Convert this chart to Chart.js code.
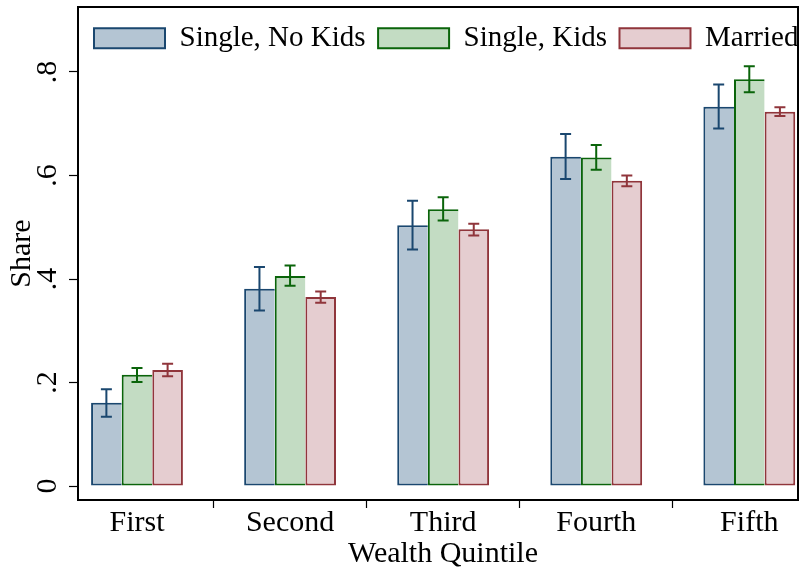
<!DOCTYPE html>
<html>
<head>
<meta charset="utf-8">
<script src="https://cdn.jsdelivr.net/npm/chart.js@4/dist/chart.umd.min.js"></script>
<style>
html,body{margin:0;padding:0;overflow:hidden;background:#fff;width:799px;height:576px}
#wrap{width:812px;height:576px}
canvas{display:block}
</style>
</head>
<body>
<div id="wrap"><canvas id="c" width="812" height="576" style="width:812px;height:576px"></canvas></div>
<script>
// ---- data ----
const categories = ['First', 'Second', 'Third', 'Fourth', 'Fifth'];
const seriesNames = ['Single, No Kids', 'Single, Kids', 'Married'];

const noKids     = [0.161, 0.381, 0.504, 0.636, 0.733];
const noKidsLow  = [0.134, 0.339, 0.457, 0.593, 0.691];
const noKidsHigh = [0.187, 0.423, 0.551, 0.680, 0.776];

const kids       = [0.215, 0.406, 0.535, 0.635, 0.786];
const kidsLow    = [0.201, 0.387, 0.513, 0.611, 0.761];
const kidsHigh   = [0.228, 0.426, 0.558, 0.659, 0.811];

const married     = [0.224, 0.365, 0.496, 0.590, 0.723];
const marriedLow  = [0.212, 0.354, 0.484, 0.579, 0.715];
const marriedHigh = [0.236, 0.376, 0.507, 0.600, 0.732];

const yTickValues = [0, 0.2, 0.4, 0.6, 0.8];
const yTickLabels = ['0', '.2', '.4', '.6', '.8'];

// ---- styles ----
const borderColors = ['#1a476f', '#0a640a', '#90353b'];
const fillColors   = ['#b4c5d3', '#c3dcc3', '#e5cdd0'];

Chart.defaults.font.family = "'Liberation Serif', 'Times New Roman', serif";
Chart.defaults.font.size = 30;
Chart.defaults.color = '#000';

const values = [noKids, kids, married];
const lows = [noKidsLow, kidsLow, marriedLow];
const highs = [noKidsHigh, kidsHigh, marriedHigh];

const datasets = seriesNames.map((name, i) => ({
  label: name,
  data: values[i].map((v, j) => ({ x: j, y: v })),
  backgroundColor: fillColors[i],
  borderColor: borderColors[i],
  borderWidth: i < 2 ? { top: 2, left: 2, bottom: 2, right: 0 } : 2,
  borderSkipped: false,
  categoryPercentage: 0.6,
  barPercentage: 1.0,
  errLow: lows[i],
  errHigh: highs[i]
}));

function noPad(s) {
  s.paddingTop = 0; s.paddingBottom = 0; s.paddingLeft = 0; s.paddingRight = 0;
}

const legendPatch = {
  id: 'legendPatch',
  afterInit(chart) {
    const lg = chart.legend;
    const fit = lg.fit;
    lg.fit = function () {
      this.maxWidth = 5000;
      fit.call(this);
      this.height = 0;
    };
  },
  beforeDraw(chart) {
    const lg = chart.legend;
    lg.left = 81.5; lg.top = 11.3; lg.right = 900; lg.bottom = 70;
    lg.width = lg.right - lg.left; lg.height = lg.bottom - lg.top;
  }
};

const errorBars = {
  id: 'errorBars',
  afterDatasetsDraw(chart) {
    const ctx = chart.ctx;
    const ys = chart.scales.y;
    ctx.save();
    chart.data.datasets.forEach((ds, i) => {
      const meta = chart.getDatasetMeta(i);
      ctx.strokeStyle = ds.borderColor;
      ctx.lineWidth = 2;
      meta.data.forEach((bar, j) => {
        const x = bar.x;
        const yl = ys.getPixelForValue(ds.errLow[j]);
        const yh = ys.getPixelForValue(ds.errHigh[j]);
        ctx.beginPath();
        ctx.moveTo(x, yl); ctx.lineTo(x, yh);
        ctx.moveTo(x - 5.5, yl); ctx.lineTo(x + 5.5, yl);
        ctx.moveTo(x - 5.5, yh); ctx.lineTo(x + 5.5, yh);
        ctx.stroke();
      });
    });
    ctx.restore();
  }
};

const frame = {
  id: 'frame',
  afterDraw(chart) {
    const a = chart.chartArea;
    const ctx = chart.ctx;
    const rx = a.right - 10;
    ctx.save();
    ctx.strokeStyle = '#000';
    ctx.lineWidth = 2;
    ctx.beginPath();
    ctx.moveTo(a.left - 1, a.top);
    ctx.lineTo(rx, a.top);
    ctx.lineTo(rx, a.bottom);
    ctx.stroke();
    ctx.restore();
  }
};

new Chart(document.getElementById('c'), {
  type: 'bar',
  data: { datasets },
  options: {
    responsive: false,
    animation: false,
    events: [],
    layout: { padding: { top: 7, right: 4, left: 0, bottom: 0 } },
    plugins: {
      tooltip: { enabled: false },
      legend: {
        position: 'top',
        align: 'start',
        fullSize: false,
        labels: {
          boxWidth: 71,
          boxHeight: 20,
          padding: 12.5,
          font: { size: 29 },
          color: '#000',
          generateLabels: (chart) => chart.data.datasets.map((d, i) => ({
            text: d.label,
            fillStyle: d.backgroundColor,
            strokeStyle: d.borderColor,
            lineWidth: 2,
            hidden: false,
            datasetIndex: i
          }))
        }
      }
    },
    scales: {
      x: {
        type: 'linear',
        min: -0.3854,
        max: 4.3835,
        offset: false,
        afterBuildTicks: (s) => { s.ticks = categories.map((c, i) => ({ value: i })); },
        afterFit: (s) => { s.height = 76; noPad(s); },
        ticks: {
          callback: (v, i) => categories[i],
          padding: 0,
          autoSkip: false,
          maxRotation: 0,
          font: { size: 30, lineHeight: 1 },
          color: '#000'
        },
        grid: { drawOnChartArea: false, drawTicks: true, tickLength: 8, color: '#000', tickWidth: 1.2 },
        border: { display: true, color: '#000', width: 2 },
        title: { display: true, text: 'Wealth Quintile', padding: { top: 0, bottom: 4.3 }, font: { size: 30 }, color: '#000' }
      },
      y: {
        min: -0.02705,
        max: 0.9256,
        afterBuildTicks: (s) => { s.ticks = yTickValues.map(v => ({ value: v })); },
        afterFit: (s) => { s.width = 78; noPad(s); },
        ticks: {
          callback: (v, i) => yTickLabels[i],
          minRotation: 90,
          maxRotation: 90,
          crossAlign: 'center',
          padding: 9.5,
          font: { size: 30 },
          color: '#000'
        },
        grid: { drawOnChartArea: false, drawTicks: true, tickLength: 9, color: '#000', tickWidth: 1.2 },
        border: { display: true, color: '#000', width: 2 },
        title: { display: true, text: 'Share', padding: { top: 4.2, bottom: 0 }, font: { size: 30 }, color: '#000' }
      }
    }
  },
  plugins: [legendPatch, errorBars, frame]
});
</script>
</body>
</html>
